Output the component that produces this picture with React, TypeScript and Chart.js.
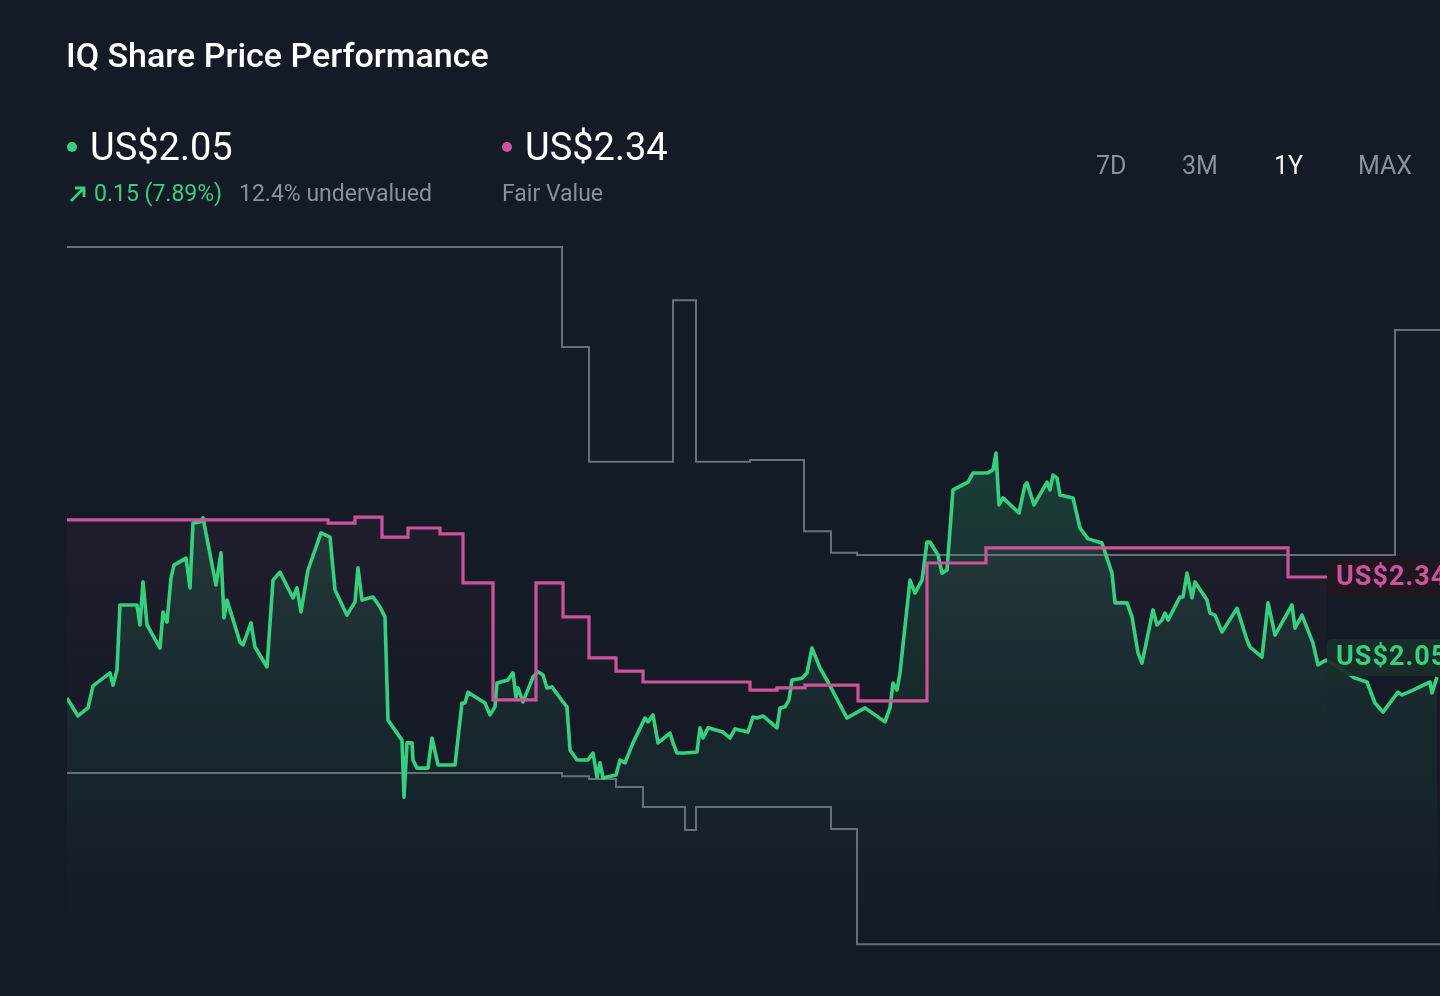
import React, { useEffect, useRef } from "react";
import { Chart, registerables } from "chart.js";

Chart.register(...registerables);

// ---- data (day offsets over the 1Y window, values in US$) ----
const priceDays = [
  0, 2.75, 5.25, 6.5, 10.75, 11.5, 12.5, 13.25, 17.5, 18.25,
  19, 20, 23.25, 24, 25, 26, 26.75, 29.75, 30.75, 31.5,
  33.25, 34, 37.25, 38.5, 39.25, 40, 43.25, 44, 46, 47,
  50, 51.5, 53.25, 56.5, 57.5, 58.5, 60.25, 63.5, 65.75, 67,
  70, 72, 72.75, 73.75, 76.5, 78.25, 79.5, 80.25, 83.75, 84.25,
  85, 86.25, 86.5, 87.5, 90.25, 91.25, 92.75, 97, 98.75, 99.5,
  100.25, 104.5, 105.75, 107, 107.5, 110.25, 111.5, 112.25, 112.75, 114,
  116.5, 117.75, 119, 120, 121.25, 124, 125, 125.75, 127.5, 130.25,
  131.5, 132.5, 133.25, 134, 137.25, 138.25, 139.5, 141.5, 144.5, 145.25,
  146.5, 147.75, 150.75, 151.5, 152.5, 154.5, 157.5, 158.25, 159, 160.25,
  164, 165.75, 167, 170.25, 171.5, 172.5, 174, 177.5, 178.25, 179.5,
  180.5, 181.25, 183.75, 185, 186.25, 188.25, 190.25, 195, 199.5, 204.5,
  205.75, 206.5, 207.5, 208.25, 210.75, 212, 213.75, 215, 215.75, 217.75,
  218.75, 220, 221.5, 225.25, 226.5, 230, 231.5, 232.25, 233, 234,
  238, 239.5, 240, 241.75, 245, 245.75, 246.5, 247.5, 248.25, 251.5,
  253.25, 255.25, 258.75, 260, 261.25, 262, 265, 266.25, 267.75, 268.75,
  271.5, 272.5, 273.75, 274.5, 275.25, 278.25, 279, 280, 281.25, 282,
  285, 285.75, 287, 288.75, 292.5, 295, 295.75, 298.75, 300.25, 302,
  306.25, 307, 308.75, 311.5, 312.75, 314.75, 318.25, 322, 325, 327,
  329, 332.75, 333.75, 336.5, 340.75, 341.25, 342.5,
];
const priceValues = [
  1.994, 1.943, 1.966, 2.029, 2.066, 2.031, 2.074, 2.26, 2.26, 2.203,
  2.326, 2.203, 2.137, 2.24, 2.211, 2.337, 2.374, 2.394, 2.309, 2.494,
  2.497, 2.509, 2.317, 2.409, 2.223, 2.274, 2.154, 2.146, 2.209, 2.14,
  2.083, 2.331, 2.354, 2.28, 2.309, 2.24, 2.36, 2.466, 2.454, 2.303,
  2.231, 2.269, 2.366, 2.274, 2.283, 2.254, 2.226, 1.931, 1.874, 1.711,
  1.866, 1.866, 1.817, 1.794, 1.794, 1.88, 1.803, 1.803, 1.98, 1.98,
  2.011, 1.98, 1.946, 1.969, 2.037, 2.046, 2.066, 1.997, 2.023, 1.983,
  2.054, 2.069, 2.06, 2.023, 2.026, 1.983, 1.969, 1.846, 1.817, 1.817,
  1.837, 1.769, 1.809, 1.766, 1.774, 1.817, 1.809, 1.866, 1.937, 1.926,
  1.946, 1.866, 1.894, 1.866, 1.837, 1.837, 1.84, 1.909, 1.88, 1.909,
  1.897, 1.88, 1.906, 1.897, 1.94, 1.937, 1.943, 1.909, 1.966, 1.969,
  1.989, 2.046, 2.051, 2.066, 2.137, 2.08, 2.04, 1.937, 1.966, 1.926,
  1.966, 2.037, 2.017, 2.066, 2.331, 2.294, 2.331, 2.44, 2.44, 2.403,
  2.351, 2.36, 2.589, 2.611, 2.637, 2.637, 2.646, 2.694, 2.546, 2.566,
  2.523, 2.603, 2.609, 2.546, 2.611, 2.589, 2.631, 2.623, 2.574, 2.566,
  2.48, 2.449, 2.437, 2.394, 2.351, 2.266, 2.266, 2.226, 2.123, 2.094,
  2.246, 2.203, 2.217, 2.237, 2.217, 2.283, 2.283, 2.351, 2.28, 2.326,
  2.274, 2.237, 2.231, 2.183, 2.251, 2.16, 2.14, 2.111, 2.266, 2.174,
  2.26, 2.194, 2.231, 2.151, 2.089, 2.103, 2.08, 2.051, 2.04, 1.98,
  1.954, 2.011, 2.003, 2.017, 2.04, 2.009, 2.054,
];

// fair value estimate (step changes)
const fairDays = [0, 65.25, 72, 78.75, 85.25, 93.25, 99, 106.5, 117.25, 124, 130.5, 137.25, 144, 170.75, 177.5, 184.5, 197.75, 215, 229.75, 305.25, 315];
const fairValues = [2.503, 2.494, 2.511, 2.454, 2.48, 2.463, 2.323, 1.989, 2.323, 2.226, 2.109, 2.071, 2.04, 2.017, 2.023, 2.031, 1.986, 2.38, 2.423, 2.34, 2.34];

// analyst high target (step changes)
const highDays = [0, 123.75, 130.5, 151.5, 157.25, 170.75, 184.25, 191, 197.5, 332, 343.25];
const highValues = [3.283, 2.997, 2.669, 3.131, 2.669, 2.674, 2.471, 2.409, 2.403, 3.046, 3.046];

// analyst low target (step changes)
const lowDays = [0, 123.75, 130.5, 137.25, 144, 154.5, 157.25, 191, 197.5, 343.25];
const lowValues = [1.78, 1.771, 1.763, 1.74, 1.683, 1.617, 1.683, 1.62, 1.291, 1.291];

const lastPrice = 2.05;
const fairValue = 2.34;
const changeText = "0.15 (7.89%)";
const valuationText = "12.4% undervalued";
const rangeButtons = ["7D", "3M", "1Y", "MAX"];
const activeRange = "1Y";
const title = "IQ Share Price Performance";

const GREEN = "#35d07f";
const PINK = "#cd549b";
const GRAY = "#66707b";
const BG = "#151b26";
const MUTED = "#8a919b";

const zip = (xs: number[], ys: number[]) => xs.map((x, i) => ({ x, y: ys[i] }));

function roundRect(ctx: CanvasRenderingContext2D, x: number, y: number, w: number, h: number, r: number) {
  ctx.beginPath();
  ctx.moveTo(x + r, y);
  ctx.lineTo(x + w - r, y);
  ctx.quadraticCurveTo(x + w, y, x + w, y + r);
  ctx.lineTo(x + w, y + h - r);
  ctx.quadraticCurveTo(x + w, y + h, x + w - r, y + h);
  ctx.lineTo(x + r, y + h);
  ctx.quadraticCurveTo(x, y + h, x, y + h - r);
  ctx.lineTo(x, y + r);
  ctx.quadraticCurveTo(x, y, x + r, y);
  ctx.closePath();
}

const endLabels = {
  id: "endLabels",
  afterDatasetsDraw(chart: any) {
    const { ctx, scales } = chart;
    const xs = scales.x;
    const ys = scales.y;
    const left = xs.getPixelForValue(fairDays[fairDays.length - 1]);
    const draw = (cy: number, text: string, color: string, bg: string) => {
      ctx.save();
      roundRect(ctx, left, cy - 18.5, 140, 37, 5);
      ctx.fillStyle = bg;
      ctx.fill();
      ctx.font = "bold 27px Roboto, 'Noto Sans', sans-serif";
      try { (ctx as any).letterSpacing = "1px"; } catch (e) {}
      ctx.fillStyle = color;
      ctx.textBaseline = "middle";
      ctx.textAlign = "left";
      ctx.fillText(text, left + 9, cy + 1);
      ctx.restore();
    };
    draw(ys.getPixelForValue(fairValue), `US$${fairValue.toFixed(2)}`, PINK, "rgba(33,22,33,0.92)");
    draw(ys.getPixelForValue(lastPrice) - 21, `US$${lastPrice.toFixed(2)}`, GREEN, "rgba(26,46,40,0.92)");
  },
};

function ChartCanvas() {
  const ref = useRef<HTMLCanvasElement | null>(null);
  useEffect(() => {
    if (!ref.current) return;
    const greenFill = (c: any) => {
      const { chart } = c;
      const area = chart.chartArea;
      if (!area) return "rgba(0,0,0,0)";
      const g = chart.ctx.createLinearGradient(0, area.top, 0, area.bottom);
      g.addColorStop(0, "rgba(53,208,127,0.32)");
      g.addColorStop(0.55, "rgba(53,208,127,0.11)");
      g.addColorStop(0.95, "rgba(53,208,127,0.0)");
      return g;
    };
    const pinkFill = (c: any) => {
      const { chart } = c;
      const area = chart.chartArea;
      if (!area) return "rgba(0,0,0,0)";
      const g = chart.ctx.createLinearGradient(0, area.top, 0, area.bottom);
      g.addColorStop(0.3, "rgba(205,84,155,0.08)");
      g.addColorStop(0.7, "rgba(205,84,155,0.0)");
      return g;
    };
    const chart = new Chart(ref.current, {
      type: "line",
      data: {
        datasets: [
          {
            label: "Fair Value",
            data: zip(fairDays, fairValues),
            borderColor: PINK,
            borderWidth: 3.2,
            stepped: true,
            pointRadius: 0,
            fill: "start",
            backgroundColor: pinkFill,
            order: 0,
          },
          {
            label: "Share Price",
            data: zip(priceDays, priceValues),
            borderColor: GREEN,
            borderWidth: 3.6,
            tension: 0,
            pointRadius: 0,
            borderJoinStyle: "round",
            fill: "start",
            backgroundColor: greenFill,
            order: 1,
          },
          {
            label: "Analyst High",
            data: zip(highDays, highValues),
            borderColor: GRAY,
            borderWidth: 2,
            stepped: true,
            pointRadius: 0,
            fill: false,
            order: 2,
          },
          {
            label: "Analyst Low",
            data: zip(lowDays, lowValues),
            borderColor: GRAY,
            borderWidth: 2,
            stepped: true,
            pointRadius: 0,
            fill: false,
            order: 3,
          },
        ],
      },
      options: {
        animation: false,
        responsive: false,
        maintainAspectRatio: false,
        layout: { padding: { left: 67, right: 0, top: 206, bottom: 20 } },
        scales: {
          x: { type: "linear", min: 0, max: 343.25, display: false },
          y: { type: "linear", min: 1.2, max: 3.4, display: false },
        },
        plugins: {
          legend: { display: false },
          tooltip: { enabled: false },
          filler: { drawTime: "beforeDatasetsDraw" },
        },
        events: [],
      } as any,
      plugins: [endLabels],
    });
    return () => chart.destroy();
  }, []);
  return (
    <canvas
      ref={ref}
      width={1440}
      height={996}
      style={{ position: "absolute", left: 0, top: 0, width: 1440, height: 996 }}
    />
  );
}

export default function App() {
  const abs = (s: React.CSSProperties): React.CSSProperties => ({ position: "absolute", lineHeight: 1, whiteSpace: "nowrap", ...s });
  const btnLeft = [1096, 1182, 1274, 1358];
  return (
    <div
      style={{
        position: "fixed",
        left: 0,
        top: 0,
        width: 1440,
        height: 996,
        overflow: "hidden",
        background: BG,
        fontFamily: "Roboto, 'Noto Sans', sans-serif",
      }}
    >
      <ChartCanvas />
      <div style={abs({ left: 66, top: 38, fontSize: 34, fontWeight: 500, color: "#ffffff" })}>{title}</div>

      <div style={abs({ left: 67, top: 142, width: 10, height: 10, borderRadius: 5, background: GREEN })} />
      <div style={abs({ left: 90, top: 128, fontSize: 38, fontWeight: 400, color: "#ffffff" })}>US${lastPrice.toFixed(2)}</div>
      <svg style={{ position: "absolute", left: 68, top: 184 }} width="20" height="20" viewBox="0 0 20 20">
        <path d="M3 17 L16 4 M7 4 H16 V13" stroke={GREEN} strokeWidth="2.8" fill="none" />
      </svg>
      <div style={abs({ left: 94, top: 182, fontSize: 23, color: GREEN })}>{changeText}</div>
      <div style={abs({ left: 239, top: 182, fontSize: 23, color: MUTED })}>{valuationText}</div>

      <div style={abs({ left: 502, top: 142, width: 10, height: 10, borderRadius: 5, background: PINK })} />
      <div style={abs({ left: 525, top: 128, fontSize: 38, fontWeight: 400, color: "#ffffff" })}>US${fairValue.toFixed(2)}</div>
      <div style={abs({ left: 502, top: 182, fontSize: 23, color: MUTED })}>Fair Value</div>

      {rangeButtons.map((b, i) => (
        <div
          key={b}
          style={abs({ left: btnLeft[i], top: 153, fontSize: 25, color: b === activeRange ? "#f2f2f2" : MUTED })}
        >
          {b}
        </div>
      ))}
    </div>
  );
}
